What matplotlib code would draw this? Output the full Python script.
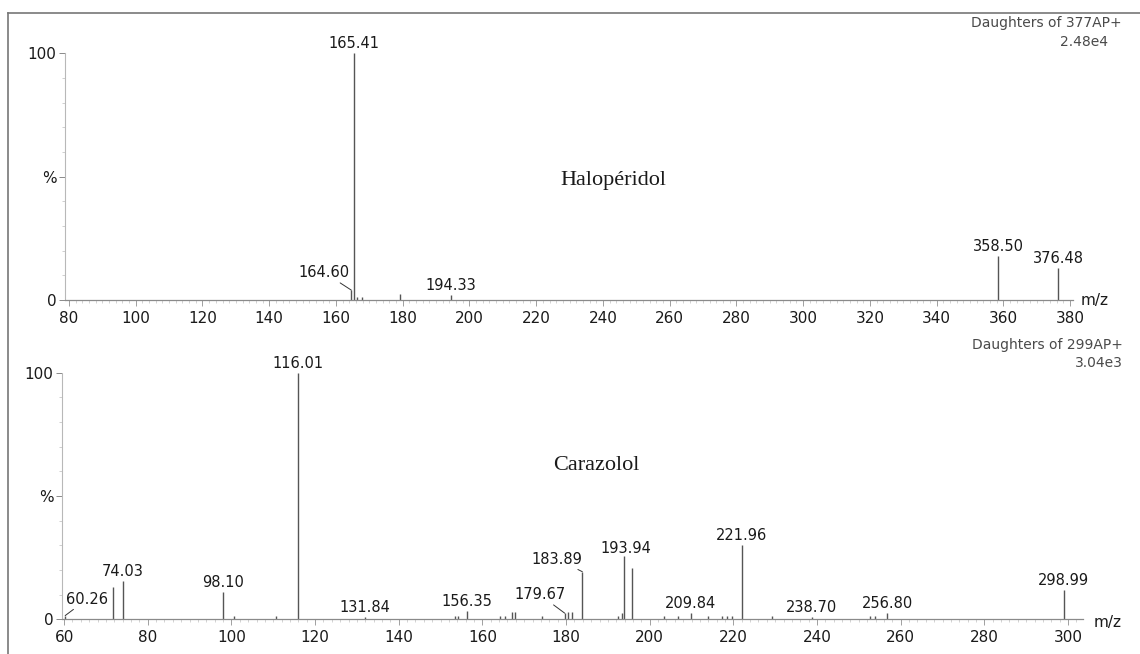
import numpy as np
import matplotlib
matplotlib.use("Agg")
import matplotlib.pyplot as plt
from matplotlib.lines import Line2D
from matplotlib.ticker import MultipleLocator, FixedLocator

# Haloperidol, daughters of 377 (m/z, relative intensity %)
halo_mz = [164.60, 165.41, 166.3, 167.8, 179.2, 194.33, 358.50, 376.48]
halo_int = [4.0, 100.0, 1.2, 1.2, 2.5, 2.0, 17.8, 13.0]
halo_labels = [164.60, 165.41, 194.33, 358.50, 376.48]

# Carazolol, daughters of 299
cara_mz = [60.26, 71.8, 74.03, 98.10, 100.5, 110.7, 116.01, 131.84, 153.5, 154.2,
           156.35, 164.2, 165.4, 167.0, 167.8, 174.2, 179.67, 180.5, 181.4, 183.89,
           192.4, 193.3, 193.94, 195.7, 203.3, 206.8, 209.84, 214.0, 217.2, 218.4,
           219.6, 221.96, 229.2, 238.70, 252.7, 253.9, 256.80, 298.99]
cara_int = [1.5, 13.2, 15.6, 11.2, 1.2, 1.2, 100.0, 0.8, 1.5, 1.5,
            3.5, 1.2, 1.5, 3.0, 3.0, 1.2, 2.5, 3.0, 3.0, 19.3,
            1.5, 2.5, 25.7, 20.7, 1.2, 1.5, 2.5, 1.2, 1.2, 1.5,
            1.2, 30.1, 1.5, 0.8, 1.5, 1.5, 2.5, 11.9]
cara_labels = [60.26, 74.03, 98.10, 116.01, 131.84, 156.35, 179.67, 183.89,
               193.94, 209.84, 221.96, 238.70, 256.80, 298.99]

# label offsets in pixels (dx, dy) and whether a leader line is drawn
label_offsets = {
    164.60: (-27, 10, True),
    60.26: (22, 9, True),
    179.67: (-25, 11, True),
    183.89: (-25, 5, True),
    193.94: (2, 0, False),
}

PEAK_COLOR = "#555555"
AXIS_COLOR = "#8a8a8a"
TEXT_COLOR = "#1a1a1a"

fig = plt.figure(figsize=(11.4, 6.54), dpi=100)
W, H = 1140, 654


def px_axes(left, bottom_px, width, height):
    # left/width in px from figure left, bottom_px = y pixel of the baseline from top
    return fig.add_axes([left / W, (H - bottom_px) / H, width / W, height / H])


def draw_spectrum(ax, mz, inten, labels, xlim, xticks):
    ax.vlines(mz, 0, inten, color=PEAK_COLOR, lw=1.0)
    ax.set_xlim(*xlim)
    ax.set_ylim(0, 101)
    for s in ["top", "right"]:
        ax.spines[s].set_visible(False)
    ax.spines["left"].set_color("#b8b8b8")
    ax.spines["left"].set_linewidth(0.8)
    ax.spines["left"].set_linestyle((0, (2, 1)))
    ax.spines["left"].set_bounds(0, 100)
    ax.spines["bottom"].set_color(AXIS_COLOR)
    ax.spines["bottom"].set_linewidth(0.9)

    ax.xaxis.set_major_locator(FixedLocator(xticks))
    ax.xaxis.set_minor_locator(MultipleLocator(2))
    ax.tick_params(axis="x", which="major", length=4, width=0.7, color="#a0a0a0",
                   pad=4, labelsize=11, labelcolor=TEXT_COLOR)
    ax.tick_params(axis="x", which="minor", length=2.5, width=0.6, color="#cccccc")

    ax.set_yticks([0, 50, 100])
    ax.set_yticklabels(["0", "%", "100"])
    ax.yaxis.set_minor_locator(MultipleLocator(10))
    ax.tick_params(axis="y", which="major", length=4, width=0.7, color=AXIS_COLOR,
                   pad=2, labelsize=11, labelcolor=TEXT_COLOR)
    ax.tick_params(axis="y", which="minor", length=2, width=0.6, color="#c8c8c8")

    for lab in labels:
        i = mz.index(lab)
        dx, dy, leader = label_offsets.get(lab, (0, 2, False))
        props = None
        if leader:
            props = dict(arrowstyle="-", color="#333333", lw=0.7,
                         shrinkA=0, shrinkB=0)
        ax.annotate(f"{lab:.2f}", xy=(lab, inten[i]), xytext=(dx, dy),
                    textcoords="offset pixels", ha="center", va="bottom",
                    fontsize=10.5, color=TEXT_COLOR, arrowprops=props,
                    annotation_clip=False)


# upper spectrum: 80 -> x=69, 3.337 px per unit, baseline at y=300
ax1 = px_axes(65, 300, 302.2 * 3.337, 246.7 * 1.01)
draw_spectrum(ax1, halo_mz, halo_int, halo_labels, (78.8, 381.0), np.arange(80, 381, 20))

# lower spectrum: 60 -> x=64, 4.183 px per unit, baseline at y=619
ax2 = px_axes(62, 619.3, 244.1 * 4.183, 246.6 * 1.01)
draw_spectrum(ax2, cara_mz, cara_int, cara_labels, (59.5, 303.6), np.arange(60, 301, 20))

# header texts and compound names
fig.text(1122 / W, 1 - 23 / H, "Daughters of 377AP+", ha="right", va="center",
         fontsize=10, color="#4a4a4a")
fig.text(1108 / W, 1 - 42 / H, "2.48e4", ha="right", va="center",
         fontsize=10, color="#4a4a4a")
fig.text(1123 / W, 1 - 345 / H, "Daughters of 299AP+", ha="right", va="center",
         fontsize=10, color="#4a4a4a")
fig.text(1123 / W, 1 - 363 / H, "3.04e3", ha="right", va="center",
         fontsize=10, color="#4a4a4a")

fig.text(613 / W, 1 - 180 / H, "Halopéridol", ha="center", va="center",
         fontsize=16, family="Liberation Serif", color=TEXT_COLOR)
fig.text(596 / W, 1 - 466 / H, "Carazolol", ha="center", va="center",
         fontsize=16, family="Liberation Serif", color=TEXT_COLOR)

fig.text(1095 / W, 1 - 300 / H, "m/z", ha="center", va="center",
         fontsize=11, color=TEXT_COLOR)
fig.text(1108 / W, 1 - 622 / H, "m/z", ha="center", va="center",
         fontsize=11, color=TEXT_COLOR)

# outer frame (left and top edges)
fig.add_artist(Line2D([8 / W, 8 / W], [0, 1 - 13 / H], transform=fig.transFigure,
                      color="#777777", lw=1.2))
fig.add_artist(Line2D([8 / W, 1], [1 - 13 / H, 1 - 13 / H], transform=fig.transFigure,
                      color="#777777", lw=1.2))

fig.savefig("out.png", dpi=100)
